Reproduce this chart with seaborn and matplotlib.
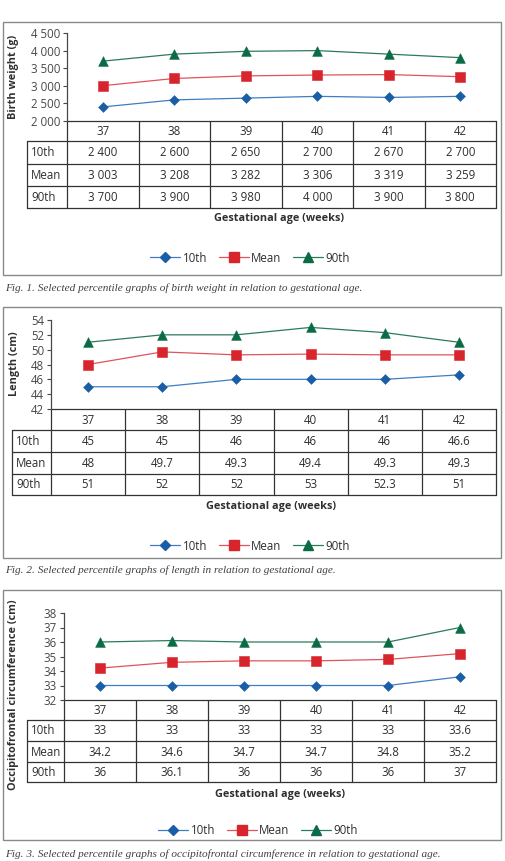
import matplotlib
matplotlib.use('Agg')
import matplotlib.pyplot as plt
import seaborn as sns
import pandas as pd
from matplotlib.lines import Line2D
from matplotlib.patches import Rectangle

# ---------------- data ----------------
weeks = ['37', '38', '39', '40', '41', '42']
series_names = ['10th', 'Mean', '90th']

bw_10 = [2400, 2600, 2650, 2700, 2670, 2700]
bw_mean = [3003, 3208, 3282, 3306, 3319, 3259]
bw_90 = [3700, 3900, 3980, 4000, 3900, 3800]

len_10 = [45, 45, 46, 46, 46, 46.6]
len_mean = [48, 49.7, 49.3, 49.4, 49.3, 49.3]
len_90 = [51, 52, 52, 53, 52.3, 51]

ofc_10 = [33, 33, 33, 33, 33, 33.6]
ofc_mean = [34.2, 34.6, 34.7, 34.7, 34.8, 35.2]
ofc_90 = [36, 36.1, 36, 36, 36, 37]

bw_ticks = [2000, 2500, 3000, 3500, 4000, 4500]
len_ticks = [42, 44, 46, 48, 50, 52, 54]
ofc_ticks = [32, 33, 34, 35, 36, 37, 38]

captions = [
    "Fig. 1. Selected percentile graphs of birth weight in relation to gestational age.",
    "Fig. 2. Selected percentile graphs of length in relation to gestational age.",
    "Fig. 3. Selected percentile graphs of occipitofrontal circumference in relation to gestational age.",
]
ylabels = ["Birth weight (g)", "Length (cm)", "Occipitofrontal circumference (cm)"]
xlabel = "Gestational age (weeks)"

# ---------------- style ----------------
sns.set_theme(style='white')
plt.rcParams['font.family'] = ['Open Sans', 'DejaVu Sans']

MARKER_COL = {'10th': '#1b5ea8', 'Mean': '#d8252d', '90th': '#0c6b47'}
LINE_COL = {'10th': '#3f7dc4', 'Mean': '#e0525c', '90th': '#2b7b5b'}
MARKERS = {'10th': 'D', 'Mean': 's', '90th': '^'}
MSIZE = {'10th': 5.0, 'Mean': 7.4, '90th': 7.0}
TXT = '#2f2f2f'
TICK = '#484848'
FS = 7.8

W, H = 505, 861
fig = plt.figure(figsize=(W / 100, H / 100), dpi=100)
ov = fig.add_axes([0, 0, 1, 1])
ov.set_xlim(0, W)
ov.set_ylim(H, 0)
ov.axis('off')


def thousands(v):
    return f"{v:,}".replace(',', ' ')


def short(v):
    return f"{v:g}"


def panel(vals, ticks, tick_fmt, cell_fmt, ylab, cap, g):
    l, t, r, b = g['plot']
    ax = fig.add_axes([l / W, 1 - b / H, (r - l) / W, (b - t) / H])
    ax.patch.set_alpha(0)
    pos = list(range(len(weeks)))
    df = pd.DataFrame({
        'pos': pos * 3,
        'value': [v for s in vals for v in s],
        'series': [n for n in series_names for _ in weeks],
    })
    for name in series_names:
        d = df[df['series'] == name]
        sns.lineplot(data=d, x='pos', y='value', color=LINE_COL[name], lw=0.9, ax=ax,
                     legend=False)
        sns.scatterplot(data=d, x='pos', y='value', marker=MARKERS[name],
                        s=MSIZE[name] ** 2, color=MARKER_COL[name], edgecolor=MARKER_COL[name],
                        linewidth=0.4, ax=ax, legend=False, zorder=3)
    ax.set_xlim(-0.5, len(weeks) - 0.5)
    ax.set_ylim(ticks[0], ticks[-1])
    ax.set_yticks(ticks)
    ax.set_yticklabels([tick_fmt(v) for v in ticks])
    ax.set_xticks([])
    ax.set_xlabel('')
    ax.set_ylabel('')
    for s in ['top', 'right', 'bottom']:
        ax.spines[s].set_visible(False)
    ax.spines['left'].set_color(TICK)
    ax.spines['left'].set_linewidth(0.9)
    ax.tick_params(axis='y', left=True, length=3, width=0.8, color=TICK,
                   labelsize=FS + 0.5, labelcolor=TICK, pad=2)

    # y label
    ov.text(14, g['ylab_y'], ylab, rotation=90, ha='center', va='center',
            fontsize=FS, fontweight='bold', color=TXT)

    # table
    lc = '#333333'
    lw = 0.9
    hdr_top = b
    rows = g['rows']
    left_lab = g['lab_left']
    cw = (r - l) / len(weeks)
    ov.plot([l, r], [hdr_top, hdr_top], color=lc, lw=lw)
    for y in rows:
        ov.plot([left_lab, r], [y, y], color=lc, lw=lw)
    for i in range(len(weeks) + 1):
        x = l + i * cw
        ov.plot([x, x], [hdr_top, rows[-1]], color=lc, lw=lw)
    ov.plot([left_lab, left_lab], [rows[0], rows[-1]], color=lc, lw=lw)
    for i, w in enumerate(weeks):
        ov.text(l + (i + 0.5) * cw, (hdr_top + rows[0]) / 2 + 0.5, w, ha='center',
                va='center', fontsize=FS + 0.5, color=TXT)
    for j, name in enumerate(series_names):
        yc = (rows[j] + rows[j + 1]) / 2 + 0.5
        ov.text(left_lab + 4, yc, name, ha='left', va='center', fontsize=FS + 0.5, color=TXT)
        for i, v in enumerate(vals[j]):
            ov.text(l + (i + 0.5) * cw, yc, cell_fmt(v), ha='center', va='center',
                    fontsize=FS + 0.5, color=TXT)
    ov.text(g['xlab'][0], g['xlab'][1], xlabel, ha='center', va='center',
            fontsize=FS, fontweight='bold', color=TXT)
    handles = [Line2D([0], [0], color=LINE_COL[n], lw=0.9, marker=MARKERS[n],
                      markersize=MSIZE[n], markerfacecolor=MARKER_COL[n],
                      markeredgecolor=MARKER_COL[n]) for n in series_names]
    lx, ly = g['leg']
    fig.legend(handles, series_names, loc='center', bbox_to_anchor=(lx / W, 1 - ly / H),
               ncol=3, frameon=False, fontsize=FS + 0.5, handlelength=2.6,
               handletextpad=0.2, columnspacing=1.0, labelcolor=TXT)
    bl, bt, br, bb = g['box']
    ov.add_patch(Rectangle((bl, bt), br - bl, bb - bt, fill=False, ec='#8a8a8a', lw=1.0))
    ov.text(5, g['cap'], cap, ha='left', va='center', fontsize=8.1, style='italic',
            family=['Liberation Serif', 'DejaVu Serif'], color='#404040')


geoms = [
    dict(box=(3, 22, 501, 275), plot=(67, 33, 496, 121), rows=[141, 164, 186, 208],
         lab_left=27, xlab=(279, 218), leg=(250, 258), cap=288, ylab_y=77),
    dict(box=(3, 307, 501, 558), plot=(51, 320, 496, 409), rows=[430, 452, 474, 495],
         lab_left=12, xlab=(271, 506), leg=(250, 546), cap=570, ylab_y=364),
    dict(box=(3, 590, 501, 840), plot=(64, 613, 496, 700), rows=[720, 741, 762, 782],
         lab_left=27, xlab=(280, 794), leg=(258, 831), cap=854, ylab_y=695),
]

panel([bw_10, bw_mean, bw_90], bw_ticks, thousands, thousands, ylabels[0], captions[0], geoms[0])
panel([len_10, len_mean, len_90], len_ticks, short, short, ylabels[1], captions[1], geoms[1])
panel([ofc_10, ofc_mean, ofc_90], ofc_ticks, short, short, ylabels[2], captions[2], geoms[2])

fig.savefig('out.png', dpi=100)
